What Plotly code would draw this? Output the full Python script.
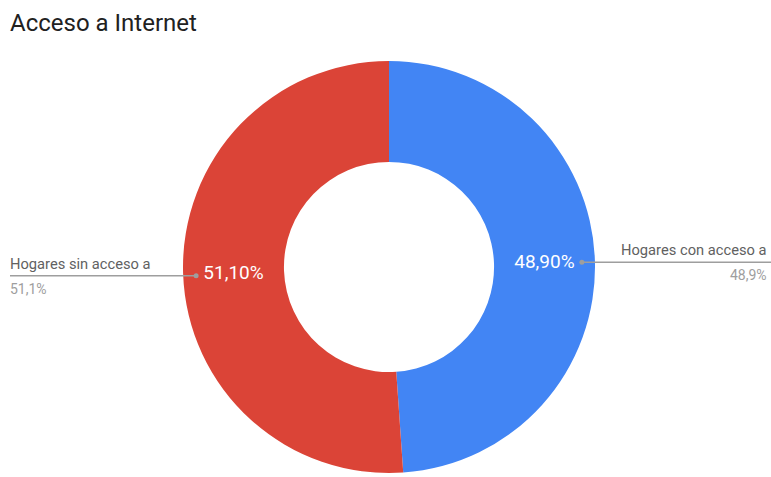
import math
import plotly.graph_objects as go

# ---- data ----
labels = ["Hogares con acceso a", "Hogares sin acceso a"]
values = [48.9, 51.1]
colors = ["#4285f4", "#db4437"]
title_text = "Acceso a Internet"

W, H = 771, 477
cx, cy, R = 389, 267, 206  # pixel geometry of the donut
hole = 0.51

def fx(px):
    return px / W

def fy(py):
    return 1 - py / H

inner_text = [f"{v:.2f}%".replace(".", ",") for v in values]
outer_text = [f"{v:.1f}%".replace(".", ",") for v in values]

fig = go.Figure()
fig.add_trace(go.Pie(
    labels=labels,
    values=values,
    text=inner_text,
    textinfo="text",
    textposition="inside",
    insidetextorientation="horizontal",
    textfont=dict(family="Roboto", size=19, color="white"),
    marker=dict(colors=colors, line=dict(width=0)),
    hole=hole,
    sort=False,
    direction="clockwise",
    rotation=0,
    showlegend=False,
    domain=dict(x=[fx(cx - R), fx(cx + R)], y=[fy(cy + R), fy(cy - R)]),
    hoverinfo="label+percent",
))

# leader lines and outside labels, anchored at each slice's mid-angle
total = sum(values)
shapes = []
annotations = []
cum = 0.0
r_dot = R - 13
for i, v in enumerate(values):
    mid = (cum + v / 2) / total * 2 * math.pi
    cum += v
    dx = cx + r_dot * math.sin(mid)
    dy = cy - r_dot * math.cos(mid) + 2
    right = math.sin(mid) > 0
    x_end = W if right else 10
    shapes.append(dict(type="line", xref="paper", yref="paper",
                       x0=fx(dx), x1=fx(x_end), y0=fy(dy), y1=fy(dy),
                       line=dict(color="#9e9e9e", width=1.5)))
    shapes.append(dict(type="circle", xref="paper", yref="paper",
                       x0=fx(dx - 2.5), x1=fx(dx + 2.5), y0=fy(dy + 2.5), y1=fy(dy - 2.5),
                       fillcolor="#9e9e9e", line=dict(width=0)))
    tx = W - 2 if right else 8
    anchor = "right" if right else "left"
    annotations.append(dict(text=labels[i], x=fx(tx), y=fy(dy - 12), xref="paper", yref="paper",
                            xanchor=anchor, yanchor="middle", showarrow=False,
                            font=dict(family="Roboto", size=14.7, color="#616161")))
    annotations.append(dict(text=outer_text[i], x=fx(tx), y=fy(dy + 13), xref="paper", yref="paper",
                            xanchor=anchor, yanchor="middle", showarrow=False,
                            font=dict(family="Roboto", size=14, color="#9e9e9e")))

fig.update_layout(
    width=W, height=H,
    margin=dict(l=0, r=0, t=0, b=0),
    paper_bgcolor="white",
    plot_bgcolor="white",
    title=dict(text=title_text, x=fx(10), xanchor="left", xref="paper",
               y=fy(23), yanchor="middle", yref="paper",
               font=dict(family="Roboto", size=24, color="#212121")),
    shapes=shapes,
    annotations=annotations,
)

fig.write_html(
    "out.html",
    config={"displayModeBar": False},
    post_script="document.body.style.margin='0px';document.body.style.overflow='hidden';",
)
